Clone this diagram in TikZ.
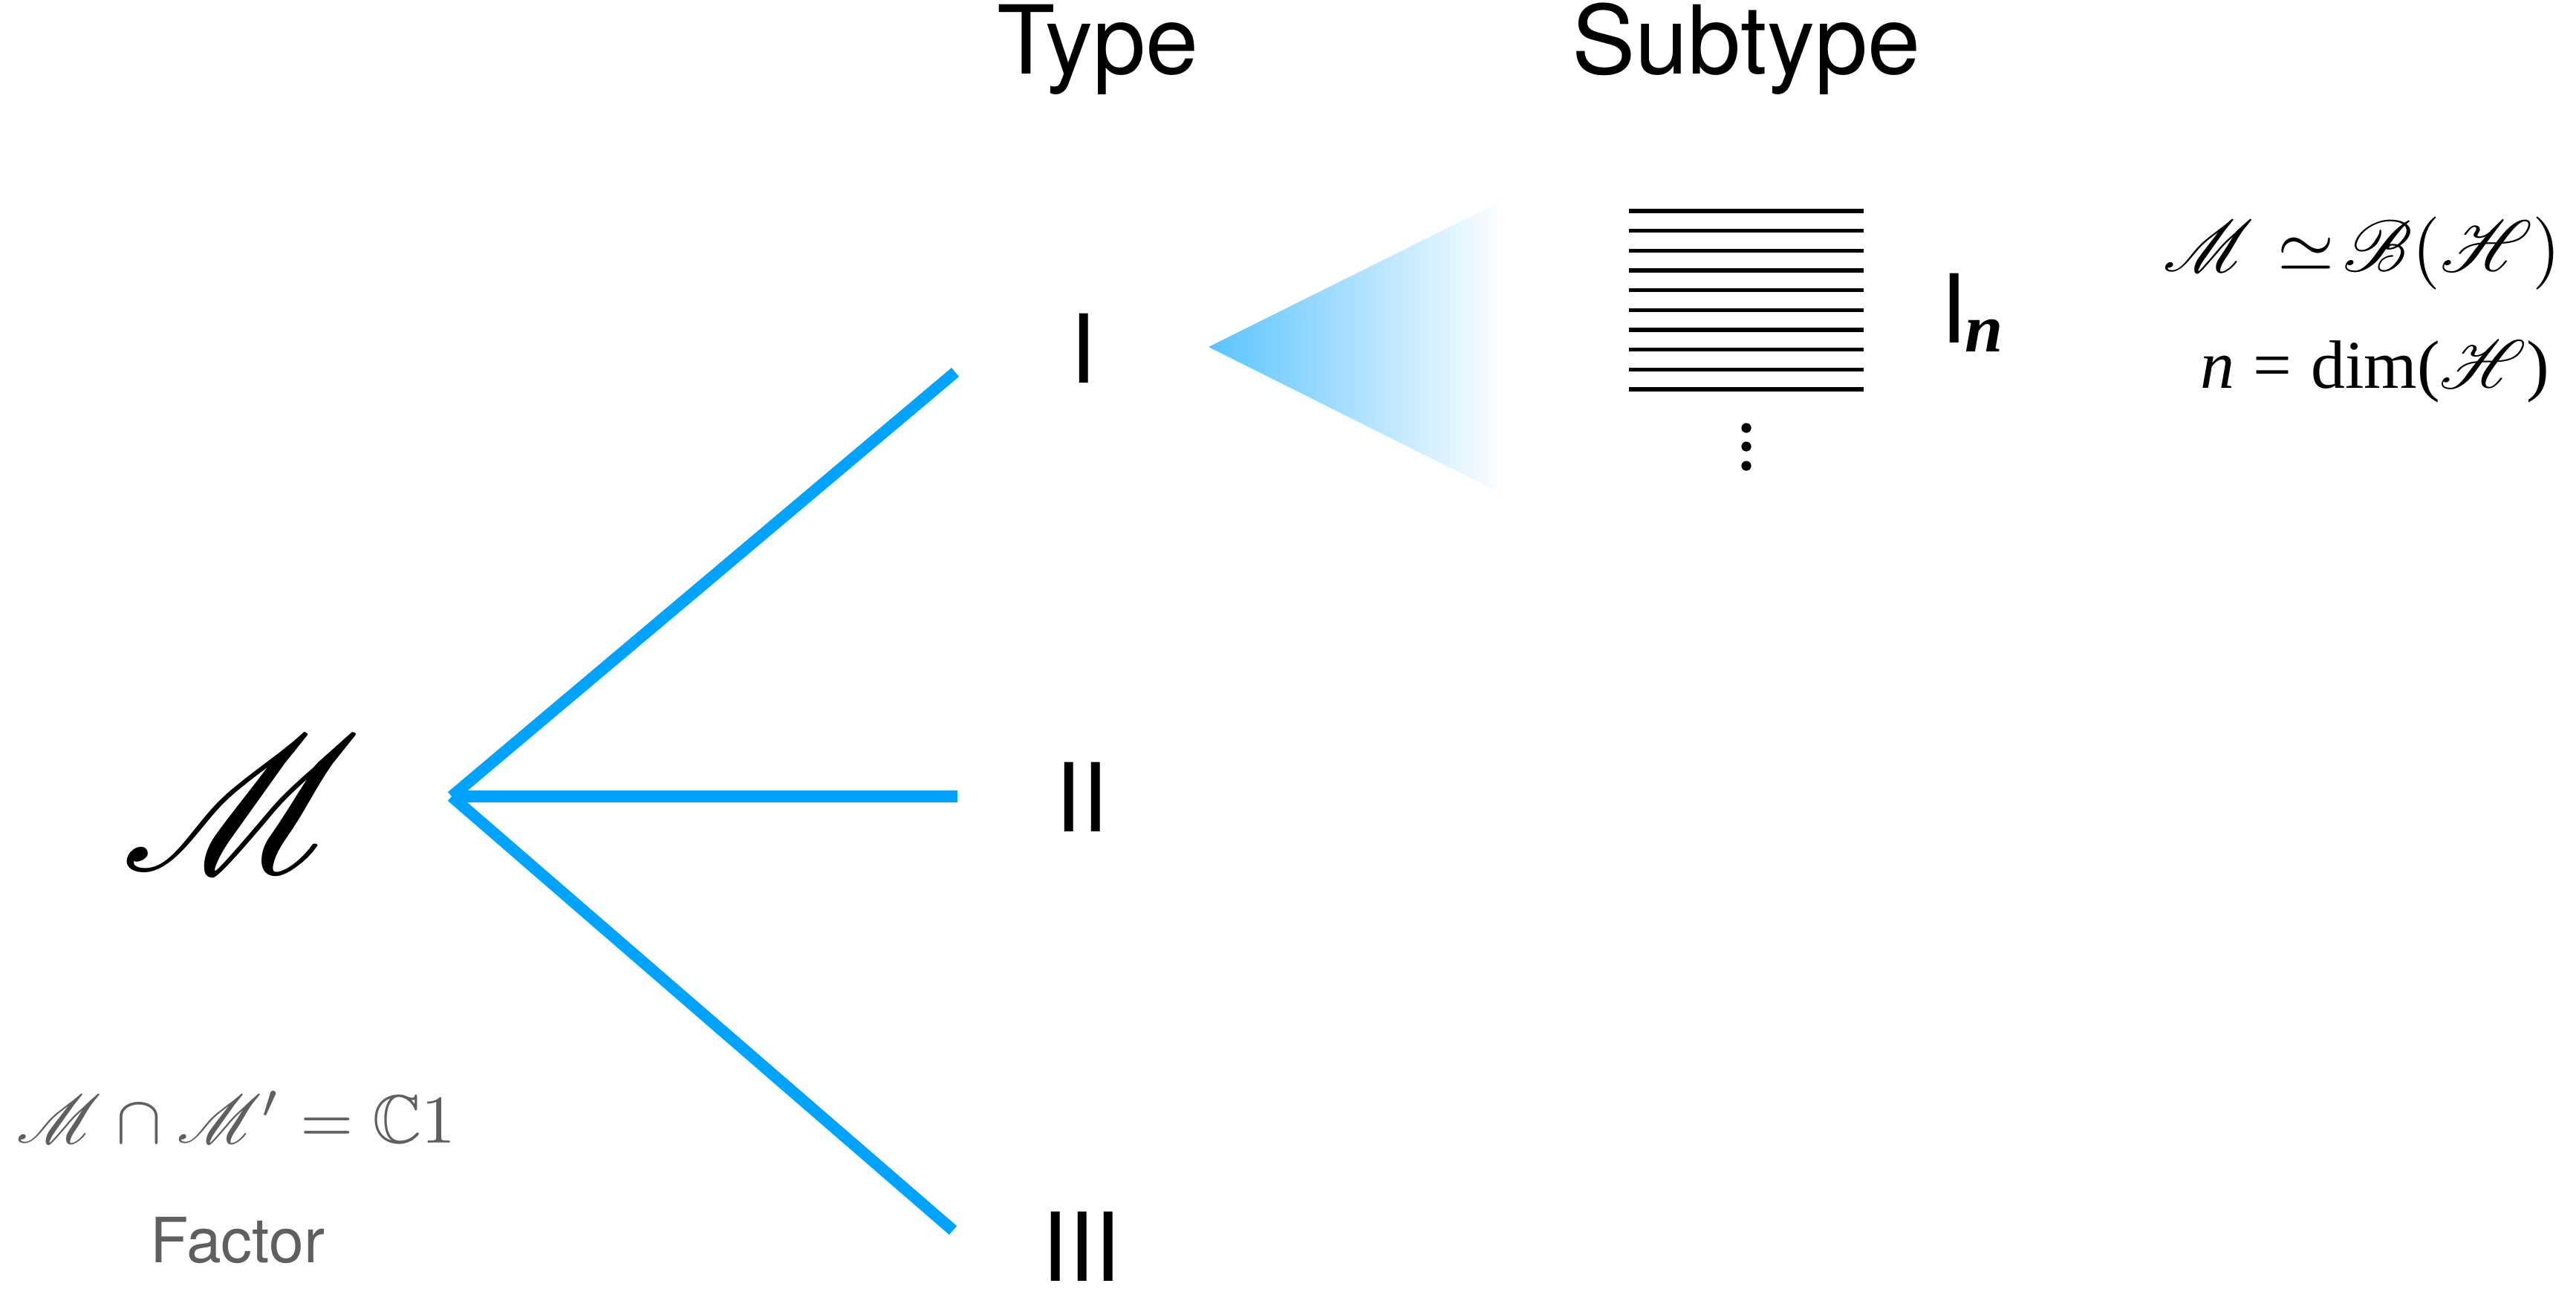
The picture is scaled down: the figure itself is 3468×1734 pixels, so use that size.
\documentclass[tikz,border=0pt]{standalone}
\usepackage{amsmath,amssymb,mathrsfs}
\usepackage{fontspec}
\setsansfont{TeX Gyre Heros}
\newfontfamily\timesf{Liberation Serif}
\usetikzlibrary{calc}
\definecolor{branch}{RGB}{0,164,255}
\definecolor{fanstart}{RGB}{90,195,255}
\definecolor{note}{RGB}{95,95,95}
\newcommand{\fsz}[1]{\fontsize{#1}{#1}\selectfont}
\tikzset{
  lbl/.style={inner sep=0pt, anchor=base, font=\sffamily\fsz{32pt}},
  branchline/.style={draw=branch, line width=3.9pt, line cap=butt},
  level/.style={draw=black, line width=1.33pt},
  mathlbl/.style={inner sep=0pt, anchor=base, font=\fsz{10pt}},
}
\begin{document}
\begin{tikzpicture}[x=0.25pt, y=-0.25pt]
\useasboundingbox (0,0) rectangle (3468,1734);

% column headers
\node[lbl] (type) at (1478,99) {Type};
\node[lbl] (subtype) at (2351,99) {Subtype};

% the factor and its defining property
\node[mathlbl, scale=6.5] (M) at (325,1172) {$\mathscr{M}$};
\node[mathlbl, text=note, scale=2.3] (comm) at (318,1538) {$\mathscr{M}\cap\mathscr{M}'=\mathbb{C}1$};
\node[lbl, text=note, font=\sffamily\fsz{21pt}] (factor) at (320,1699) {Factor};

% type labels
\node[lbl] (tI) at (1458,515) {I};
\node[lbl] (tII) at (1456,1119) {II};
\node[lbl] (tIII) at (1456,1724) {III};

% branches from the factor to the three types
\coordinate (root) at (608,1072);
\coordinate (endI) at (1286,501);
\coordinate (endII) at (1289,1072);
\coordinate (endIII) at (1283,1656);
\draw[branchline] (root) -- (endI);
\draw[branchline] (root) -- (endII);
\draw[branchline] (root) -- (endIII);

% fan opening from type I towards its subtypes
\coordinate (apex) at (1627,467);
\coordinate (fanT) at (2027,268);
\coordinate (fanB) at (2027,667);
\shade[left color=fanstart, right color=white, shading=axis] (apex) -- (fanT) -- (fanB) -- cycle;

% stack of subtypes
\foreach \k in {0,...,9} {
  \draw[level] (2193,{284+26.667*\k}) -- (2509,{284+26.667*\k});
}
\foreach \yy in {576,601,627} {
  \fill (2351,\yy) circle[radius=1.65pt];
}

% subtype label I_n
\node[lbl] (In) at (2630,461) {I};
\node[inner sep=0pt, anchor=base west, font=\timesf\bfseries\itshape\fsz{23pt}] (Insub) at (2645,473) {n};

% description of type I_n
\node[mathlbl, scale=2.45] (iso) at (3180,365) {$\mathscr{M}\mkern6mu{\simeq}\mkern2mu\mathscr{B}{\timesf(}\mathscr{H}{\timesf)}$};
\node[mathlbl, font=\timesf\fsz{10pt}, scale=2.3] (dim) at (3197,522) {{\itshape n}\;=\;dim($\mathscr{H}$)};
\end{tikzpicture}
\end{document}
